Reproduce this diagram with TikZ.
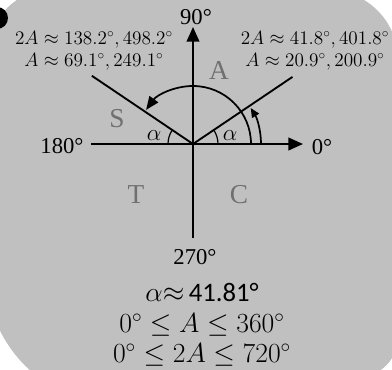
\documentclass[tikz,border=0pt]{standalone}
\usepackage{amsmath, amssymb}
\usepackage{fontspec}
\setmainfont{Liberation Serif}
\newfontfamily\calibfont{Carlito}
\usepackage{tikz}
\usetikzlibrary{arrows.meta}
\definecolor{panelgray}{RGB}{192,192,192}
\definecolor{quadgray}{RGB}{112,112,112}

\begin{document}
\begin{tikzpicture}[x=0.75pt, y=0.75pt,
  axis/.style={line width=1.5pt, -{Triangle[length=11pt, width=9.5pt]}},
  ray/.style={line width=1.4pt},
  sweep/.style={line width=1.3pt},
  axlabel/.style={font=\rmfamily\fontsize{17}{20}\selectfont, inner sep=0pt},
  quad/.style={font=\rmfamily\fontsize{20.5}{24}\selectfont, text=quadgray, inner sep=0pt},
  sols/.style={font=\fontsize{14.3}{16.5}\selectfont, align=center, inner sep=0pt}]
  \useasboundingbox (0,0) rectangle (392,369);
  \clip (0,0) rectangle (392,369);
  \fill[white] (0,0) rectangle (392,369);
  \fill[panelgray] (-10,319) arc[start angle=180, end angle=90, radius=60]
    -- (328,379) arc[start angle=90, end angle=0, radius=70]
    -- (398,32) arc[start angle=0, end angle=-90, radius=40]
    -- (120,-36) arc[start angle=270, end angle=180, radius=134] -- cycle;
  \fill[black] (-3,351) circle[radius=11];

  % axes
  \coordinate (O) at (193,225);
  \coordinate (xl) at (91,225);
  \coordinate (xr) at (303,225);
  \coordinate (yb) at (193,131);
  \coordinate (yt) at (193,342);
  \draw[axis] (xl) -- (xr);
  \draw[axis] (yb) -- (yt);
  \node[axlabel] (l90) at (196,352) {90°};
  \node[axlabel] (l180) at (62,223) {180°};
  \node[axlabel] (l0) at (322,222) {0°};
  \node[axlabel] (l270) at (195,112) {270°};

  % the two solutions
  \draw[ray] (O) -- ++(34:120) coordinate (rA);
  \draw[ray] (O) -- ++(146:122) coordinate (rS);
  \draw[sweep, -{Triangle[length=7pt, width=6pt]}] ([shift={(68,0)}]O) arc[start angle=0, end angle=32, radius=68];
  \draw[sweep, -{Triangle[length=10pt, width=8pt]}] ([shift={(58,0)}]O) arc[start angle=0, end angle=144, radius=58];
  \draw[line width=0.9pt] ([shift={(25,0)}]O) arc[start angle=0, end angle=34, radius=25];
  \draw[line width=0.9pt] ([shift={(-25,0)}]O) arc[start angle=180, end angle=146, radius=25];
  \node[font=\fontsize{17.5}{20}\selectfont, inner sep=0pt] (aR) at (230,233) {$\alpha$};
  \node[font=\fontsize{17.5}{20}\selectfont, inner sep=0pt] (aL) at (154,233) {$\alpha$};

  % quadrants
  \node[quad] (qA) at (219,299) {A};
  \node[quad] (qS) at (117,250) {S};
  \node[quad] (qT) at (136,174) {T};
  \node[quad] (qC) at (239,174) {C};

  \node[sols] (solS) at (94,318) {$2A\approx138.2^\circ,498.2^\circ$\\$A\approx69.1^\circ,249.1^\circ$};
  \node[sols] (solA) at (315,318) {$2A\approx41.8^\circ,401.8^\circ$\\$A\approx20.9^\circ,200.9^\circ$};

  \node[font=\fontsize{20}{23}\selectfont, align=center, inner sep=0pt] (summary) at (202,44)
    {$\alpha{\approx}$\,{\calibfont 41.81°}\\$0^\circ\le A\le360^\circ$\\$0^\circ\le2A\le720^\circ$};
\end{tikzpicture}
\end{document}
